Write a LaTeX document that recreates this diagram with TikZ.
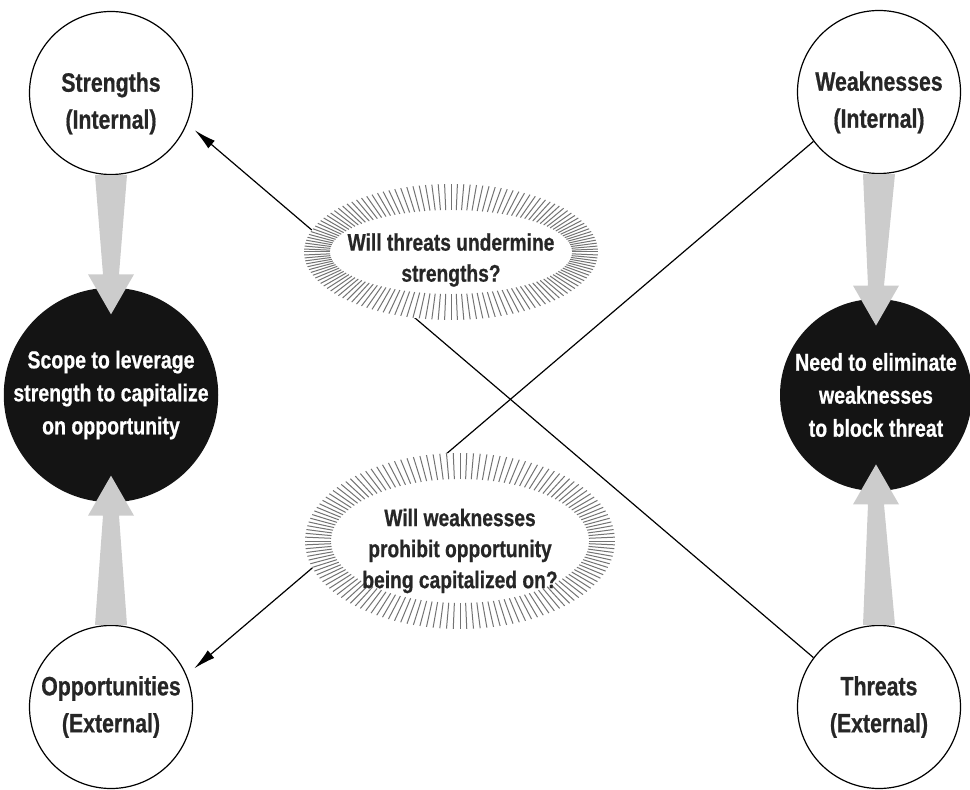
\documentclass[tikz,border=0pt]{standalone}
\usepackage{fontspec}
\setmainfont[FakeStretch=0.8,BoldFeatures={FakeBold=0.6}]{Liberation Sans}
\usetikzlibrary{arrows.meta,calc}

\newcommand{\fatarrow}[3]{%
  \fill[fat] ($(#1)+(-16,0)$) -- ($(#2)+(-8,{13*(#3)})$) -- ($(#2)+(-23,{13*(#3)})$)
    -- ($(#2)+(0,{-27*(#3)})$) -- ($(#2)+(23,{13*(#3)})$) -- ($(#2)+(8,{13*(#3)})$)
    -- ($(#1)+(16,0)$) -- cycle;}
\newcommand{\hatchring}[5]{%
  \fill[white] (#1) ellipse [x radius=#2, y radius=#3];
  \foreach \a in {0,2.5,...,357.5}
    \draw[hatch] ($(#1)+(\a:#4 and #5)$) -- ($(#1)+(\a:#2 and #3)$);}

\begin{document}
\begin{tikzpicture}[x=0.5pt,y=0.5pt,
  swot/.style={circle, draw, line width=0.6pt, fill=white, minimum size=81.5pt, inner sep=0pt,
    align=center, text=black!85, font=\fontsize{13.3}{18.5}\selectfont\bfseries},
  aim/.style={circle, fill=black!92, minimum size=96pt, inner sep=0pt,
    align=center, text=white, font=\fontsize{12.2}{16.5}\selectfont\bfseries},
  ask/.style={align=center, text=black!85, font=\fontsize{12}{15.5}\selectfont\bfseries},
  fat/.style={fill=black!20},
  hatch/.style={draw=black!55, line width=0.5pt},
  link/.style={line width=0.6pt, -{Latex[length=11pt,width=5pt]}, shorten >=5pt}]
\useasboundingbox (0,0) rectangle (970,789);

\node[aim] (scope) at (111,394) {Scope to leverage\\strength to capitalize\\on opportunity};
\node[aim] (need) at (876,394) {Need to eliminate\\weaknesses\\to block threat};
\node[swot] (str) at (111,696) {\rule{0pt}{20pt}Strengths\\(Internal)};
\node[swot] (weak) at (879,697) {\rule{0pt}{20pt}Weaknesses\\(Internal)};
\node[swot] (opp) at (111,82) {Opportunities\\(External)};
\node[swot] (threat) at (879,82) {Threats\\(External)};

\fatarrow{str.south}{scope.north}{1}
\fatarrow{opp.north}{scope.south}{-1}
\fatarrow{weak.south}{need.north}{1}
\fatarrow{threat.north}{need.south}{-1}

\draw[link] (threat.143) -- (str.-22);
\draw[link] (weak.217) -- (opp.23);

\coordinate (c1) at (451,537);
\coordinate (c2) at (460,248);
\hatchring{c1}{147}{68}{121}{42}
\hatchring{c2}{155}{88}{129}{62}
\node[ask] (q1) at (451,529) {Will threats undermine\\strengths?};
\node[ask] (q2) at (460,238) {Will weaknesses\\prohibit opportunity\\being capitalized on?};

\end{tikzpicture}
\end{document}
